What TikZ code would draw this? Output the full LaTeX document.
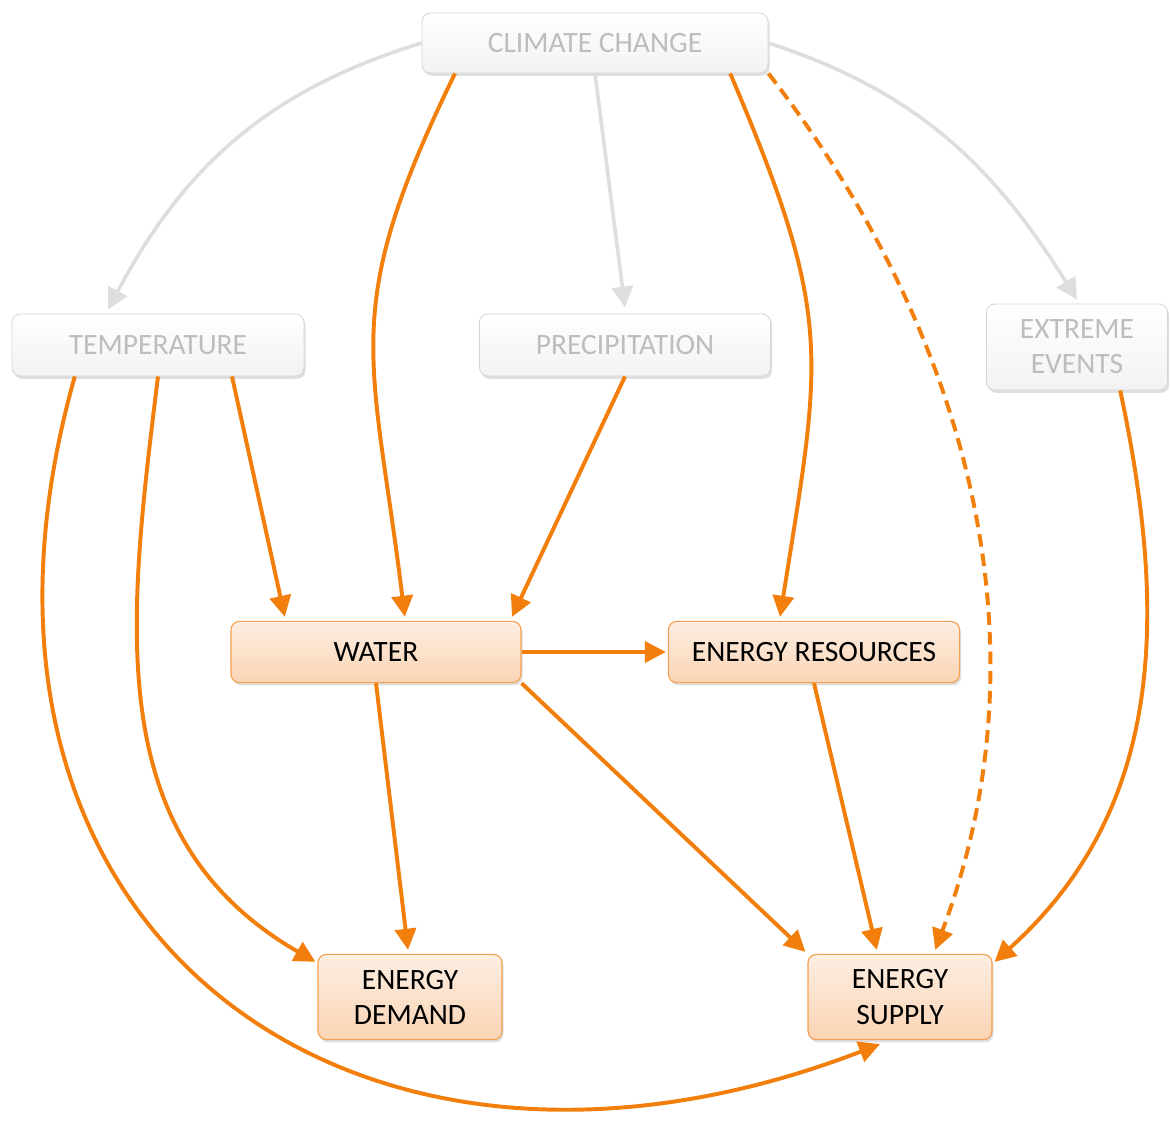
\documentclass[tikz,border=0pt]{standalone}
\usepackage{fontspec}
\setmainfont{Carlito}
\usepackage{xcolor}
\usepackage{tikz}
\usetikzlibrary{arrows.meta, shadows}
\definecolor{linkO}{HTML}{F27F0C}
\definecolor{boxO}{HTML}{F5A050}
\definecolor{peachT}{HTML}{FDEEE2}
\definecolor{peachB}{HTML}{FAD4B4}
\definecolor{greyL}{HTML}{DEDEDE}
\definecolor{greyT}{HTML}{BDBDBD}
\definecolor{greyB}{HTML}{D6D6D6}

\begin{document}
\begin{tikzpicture}[font=\fontsize{21}{25}\selectfont,
   driver/.style={rectangle, rounded corners=6pt, align=center, text=greyT,
                  draw=greyB, line width=0.6pt, top color=white, bottom color=black!5,
                  drop shadow={opacity=0.25, shadow xshift=0.04cm, shadow yshift=-0.07cm}},
   impact/.style={rectangle, rounded corners=6pt, align=center, text=black,
                  draw=boxO, line width=0.8pt, top color=peachT, bottom color=peachB,
                  drop shadow={opacity=0.25, shadow xshift=0.04cm, shadow yshift=-0.07cm}},
   greylink/.style={draw=greyL, line width=2.6pt, -{Triangle[length=15pt, width=15pt]}},
   link/.style={draw=linkO, line width=2.8pt, -{Triangle[length=15pt, width=15pt]}}]
  \useasboundingbox (0,0) rectangle (29.25,-28.1);
  % climate drivers
  \node[driver, minimum width=8.65cm, minimum height=1.5cm] (cc) at (14.875,-1.075) {CLIMATE CHANGE};
  \node[driver, minimum width=7.3cm, minimum height=1.55cm] (temp) at (3.95,-8.625) {TEMPERATURE};
  \node[driver, minimum width=7.28cm, minimum height=1.55cm] (prec) at (15.625,-8.625) {PRECIPITATION};
  \node[driver, minimum width=4.53cm, minimum height=2.15cm] (ext) at (26.925,-8.675) {EXTREME\\EVENTS};
  % energy system
  \node[impact, minimum width=7.25cm, minimum height=1.53cm] (water) at (9.4,-16.3) {WATER};
  \node[impact, minimum width=7.28cm, minimum height=1.53cm] (res) at (20.35,-16.3) {ENERGY RESOURCES};
  \node[impact, minimum width=4.6cm, minimum height=2.13cm] (dem) at (10.25,-24.925) {ENERGY\\DEMAND};
  \node[impact, minimum width=4.6cm, minimum height=2.13cm] (sup) at (22.5,-24.925) {ENERGY\\SUPPLY};
  % grey links
  \draw[greylink] (cc.west) to[out=197, in=62] ([xshift=-1.25cm, yshift=0.1cm]temp.north);
  \draw[greylink] (cc.south) -- ([yshift=0.15cm]prec.north);
  \draw[greylink] (cc.east) to[out=-18, in=122] ([yshift=0.1cm]ext.north);
  % orange links
  \draw[link] ([xshift=-3.5cm]cc.south) to[out=-116, in=97, looseness=1.25] ([xshift=0.72cm, yshift=0.1cm]water.north);
  \draw[link] ([xshift=3.38cm]cc.south) to[out=-67, in=81, looseness=1.25] ([xshift=-0.85cm, yshift=0.1cm]res.north);
  \draw[link, dash pattern=on 9pt off 5pt] (cc.south east)
    .. controls +(4.5,-5.8) and +(3.1,8.25) .. ([xshift=0.88cm, yshift=0.1cm]sup.north);
  \draw[link] ([xshift=1.85cm]temp.south) -- ([xshift=-2.28cm, yshift=0.1cm]water.north);
  \draw[link] (prec.south) -- ([xshift=3.4cm, yshift=0.1cm]water.north);
  \draw[link] ([xshift=-2.08cm]temp.south)
    .. controls +(-3.9,-13.8) and +(-13.25,-5.1) .. ([xshift=-0.5cm, yshift=-0.1cm]sup.south);
  \draw[link] (temp.south) to[out=-97, in=150, looseness=1.05] ([xshift=-0.05cm, yshift=-0.2cm]dem.north west);
  \draw[link] (water.east) -- ([xshift=-0.05cm]res.west);
  \draw[link] (water.south) -- ([xshift=-0.05cm, yshift=0.1cm]dem.north);
  \draw[link] (water.south east) -- ([xshift=-0.05cm, yshift=0.05cm]sup.north west);
  \draw[link] (res.south) -- ([xshift=-0.58cm, yshift=0.1cm]sup.north);
  \draw[link] ([xshift=1.08cm]ext.south) to[out=-78, in=42] ([xshift=0.05cm, yshift=-0.2cm]sup.north east);
\end{tikzpicture}
\end{document}
